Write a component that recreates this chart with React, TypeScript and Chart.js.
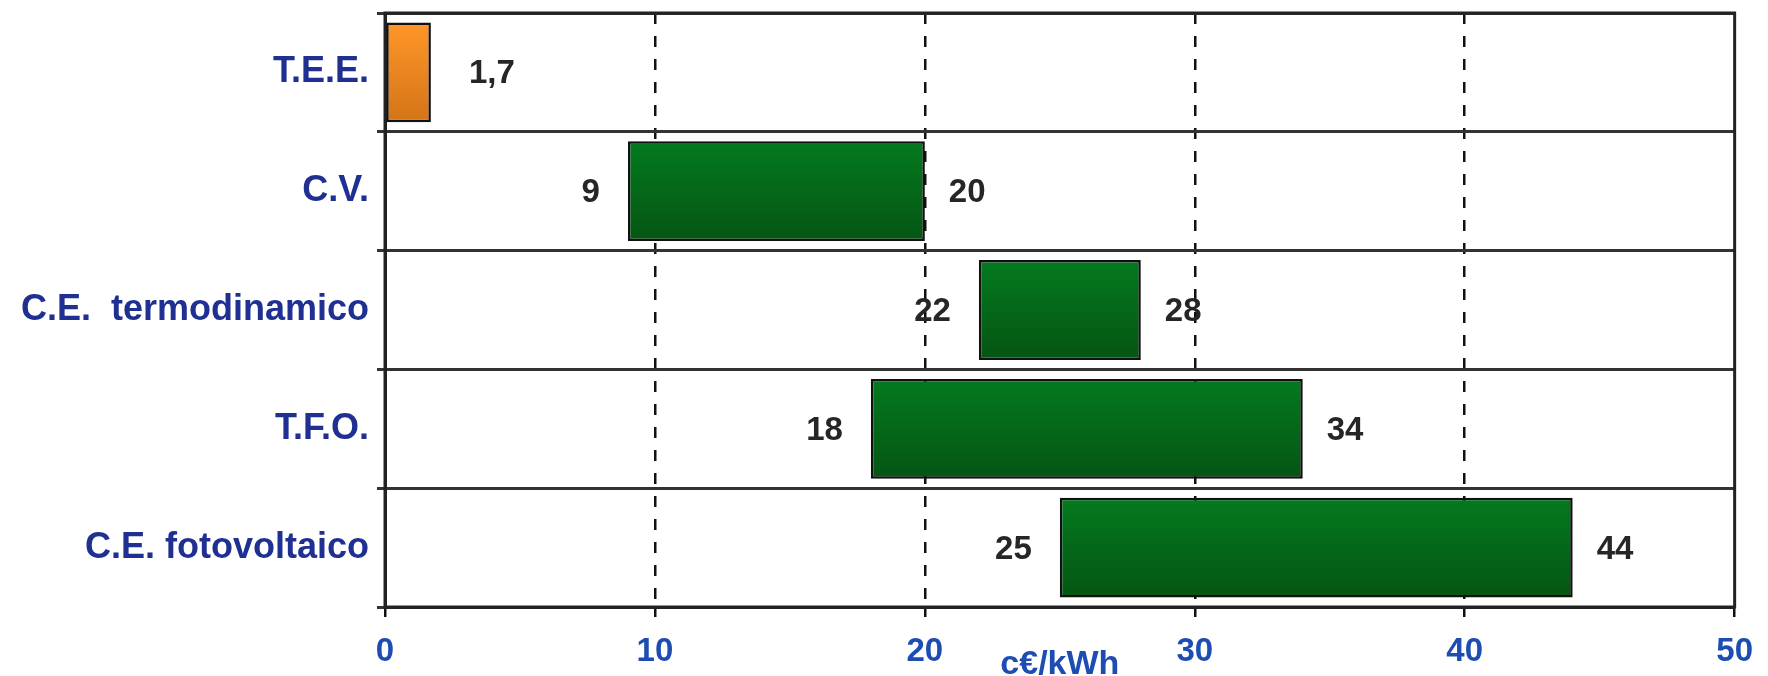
import React, { useEffect, useRef } from "react";
import { Chart, registerables } from "chart.js";

Chart.register(...registerables);

const categories = ["T.E.E.", "C.V.", "C.E.  termodinamico", "T.F.O.", "C.E. fotovoltaico"];
const rangeStart = [0, 9, 22, 18, 25];
const rangeEnd = [1.7, 20, 28, 34, 44];
const isCertificate = [true, false, false, false, false];
const xTickValues = [0, 10, 20, 30, 40, 50];
const axisTitle = "c€/kWh";

const LABEL_FONT = "'Liberation Sans', Arial, sans-serif";
const CAT_FONT = "'Liberation Sans', Arial, sans-serif";

const fmt = (v: number) => String(v).replace(".", ",");

const valueLabelPlugin = {
  id: "valueLabels",
  afterDatasetsDraw(chart: any) {
    const ctx = chart.ctx;
    const meta = chart.getDatasetMeta(0);
    ctx.save();
    ctx.font = `bold 33px ${LABEL_FONT}`;
    ctx.fillStyle = "#262626";
    ctx.textBaseline = "middle";
    meta.data.forEach((bar: any, i: number) => {
      const xs = chart.scales.x.getPixelForValue(rangeStart[i]);
      const xe = chart.scales.x.getPixelForValue(rangeEnd[i]);
      const y = bar.y + 2;
      if (rangeStart[i] > 0) {
        ctx.textAlign = "right";
        ctx.fillText(fmt(rangeStart[i]), xs - 28, y);
      }
      ctx.textAlign = "left";
      ctx.fillText(fmt(rangeEnd[i]), xe + (rangeStart[i] > 0 ? 24 : 38), y);
    });
    ctx.restore();
  },
};

const framePlugin = {
  id: "frame",
  afterDraw(chart: any) {
    const { ctx, chartArea: a } = chart;
    ctx.save();
    ctx.strokeStyle = "#222";
    ctx.lineWidth = 3;
    ctx.strokeRect(a.left, a.top, a.right - a.left, a.bottom - a.top);
    ctx.restore();
  },
};

export default function App() {
  const ref = useRef<HTMLCanvasElement>(null);
  useEffect(() => {
    document.body.style.margin = "0";
    const canvas = ref.current!;
    const chart = new Chart(canvas, {
      type: "bar",
      data: {
        labels: categories,
        datasets: [
          {
            data: categories.map((_, i) => [rangeStart[i], rangeEnd[i]]) as any,
            backgroundColor: (c: any) => {
              const ch = c.chart;
              const y = ch.scales?.y;
              const i = c.dataIndex;
              const fallback = isCertificate[i] ? "#f08a22" : "#046b1a";
              if (!y || i === undefined) return fallback;
              const cy = y.getPixelForValue(i);
              const h = (y.getPixelForValue(1) - y.getPixelForValue(0)) * 0.84;
              if (!Number.isFinite(cy) || !Number.isFinite(h) || h <= 0) return fallback;
              const g = ch.ctx.createLinearGradient(0, cy - h / 2, 0, cy + h / 2);
              if (isCertificate[i]) {
                g.addColorStop(0, "#ff9628");
                g.addColorStop(1, "#d47418");
              } else {
                g.addColorStop(0, "#037a1f");
                g.addColorStop(1, "#055513");
              }
              return g;
            },
            borderColor: "#111",
            borderWidth: 2.5,
            borderSkipped: false,
            barPercentage: 0.84,
            categoryPercentage: 1,
          },
        ],
      },
      options: {
        indexAxis: "y",
        responsive: false,
        animation: false,
        layout: { padding: { left: 0, right: 22, top: 13, bottom: 0 } },
        plugins: { legend: { display: false }, tooltip: { enabled: false } },
        scales: {
          x: {
            type: "linear",
            min: 0,
            max: 50,
            afterBuildTicks: (s: any) => {
              s.ticks = xTickValues.map((v) => ({ value: v }));
            },
            afterFit: (s: any) => {
              s.height = 69;
            },
            ticks: {
              color: "#1d4db3",
              font: { family: LABEL_FONT, size: 33, weight: "bold" },
              padding: 15,
            },
            grid: {
              color: (c: any) => (c.tick && (c.tick.value === 0 || c.tick.value === 50) ? "rgba(0,0,0,0)" : "#111"),
              lineWidth: 2.5,
              tickColor: "#111",
              tickLength: 10,
              tickWidth: 2.5,
            },
            border: { display: true, color: "#222", width: 3, dash: [11, 12] },
            title: {
              display: true,
              text: axisTitle,
              color: "#1d4db3",
              font: { family: LABEL_FONT, size: 34, weight: "bold" },
              padding: { top: 0, bottom: -9 },
            },
          },
          y: {
            type: "category",
            offset: true,
            afterFit: (s: any) => {
              s.width = 385;
              s.paddingTop = 0;
              s.paddingBottom = 0;
            },
            ticks: {
              color: "#1f2f92",
              font: { family: CAT_FONT, size: 36, weight: "bold" },
              padding: 8,
            },
            grid: {
              offset: true,
              color: "#333",
              lineWidth: 3,
              tickLength: 8,
            },
            border: { display: true, color: "#222", width: 3 },
          },
        },
      },
      plugins: [valueLabelPlugin, framePlugin],
    } as any);
    return () => chart.destroy();
  }, []);
  return (
    <div style={{ width: 1768, height: 676, background: "#fff" }}>
      <canvas ref={ref} width={1768} height={676} />
    </div>
  );
}
